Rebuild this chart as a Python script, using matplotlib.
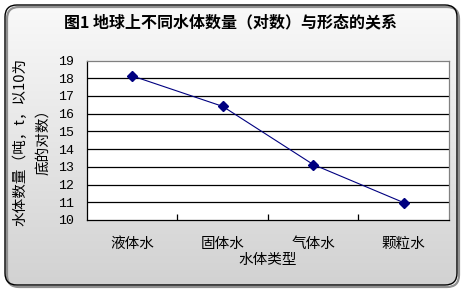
import numpy as np
import matplotlib
matplotlib.use("Agg")
import matplotlib.pyplot as plt
from matplotlib.patches import FancyBboxPatch
from matplotlib.colors import LinearSegmentedColormap

plt.rcParams['font.family'] = ['Noto Sans CJK SC', 'DejaVu Sans']

categories = ["液体水", "固体水", "气体水", "颗粒水"]
values = [18.13, 16.41, 13.13, 10.98]
yticks = list(range(10, 20))

W, H = 464, 290
fig = plt.figure(figsize=(W / 100, H / 100), dpi=100)

# gradient background with rounded border
bg = fig.add_axes([0, 0, 1, 1], zorder=-10)
bg.set_axis_off()
bg.set_xlim(0, W)
bg.set_ylim(H, 0)
cmap = LinearSegmentedColormap.from_list("bg", ["#f9f9f9", "#d2d2d2"])
grad = np.linspace(0, 1, 256).reshape(-1, 1)
img = bg.imshow(grad, aspect="auto", cmap=cmap, extent=[5, 457, 285, 5])
shadow = FancyBboxPatch((7, 7), 452, 280, boxstyle="round,pad=0,rounding_size=12",
                        fc="none", ec="#909090", lw=1.6)
bg.add_patch(shadow)
box = FancyBboxPatch((5, 5), 452, 280, boxstyle="round,pad=0,rounding_size=12",
                     fc="none", ec="black", lw=1.0)
bg.add_patch(box)
img.set_clip_path(box)

ax = fig.add_axes([87 / W, 1 - 220 / H, (449 - 87) / W, (220 - 60.5) / H])
ax.set_facecolor("white")
x = np.arange(len(categories))
ax.plot(x, values, color="#000080", lw=0.8, marker="D", ms=5.5,
        mfc="#000080", mec="#000080", zorder=3)

ax.set_xlim(-0.5, len(categories) - 0.5)
ax.set_ylim(10, 19)
ax.set_yticks(yticks)
ax.set_yticklabels([str(t) for t in yticks], fontsize=9.5, family="Liberation Mono")
ax.tick_params(axis="y", length=0, pad=9)
for t in yticks[1:-1]:
    ax.axhline(t, color="black", lw=0.9, zorder=1)

ax.set_xticks(x)
ax.set_xticklabels(categories, fontsize=10.5)
ax.set_xticks(x[:-1] + 0.5, minor=True)
ax.tick_params(axis="x", which="major", length=0, pad=12)
ax.tick_params(axis="x", which="minor", length=4, direction="in", width=0.9)

for s in ["left", "bottom"]:
    ax.spines[s].set_color("black")
    ax.spines[s].set_linewidth(0.9)
for s in ["top", "right"]:
    ax.spines[s].set_color("#808080")
    ax.spines[s].set_linewidth(0.9)

ax.set_xlabel("水体类型", fontsize=10.5, labelpad=2)

fig.text(20 / W, 1 - 142 / H, "水体数量（吨，t，以10为", rotation=90,
         fontsize=10.5, ha="center", va="center")
fig.text(43 / W, 1 - 138 / H, "底的对数）", rotation=90,
         fontsize=10.5, ha="center", va="center")

fig.text(231 / W, 1 - 22 / H, "图1 地球上不同水体数量（对数）与形态的关系",
         fontsize=11.5, fontweight="bold", ha="center", va="center")

fig.savefig("out.png", dpi=100)
